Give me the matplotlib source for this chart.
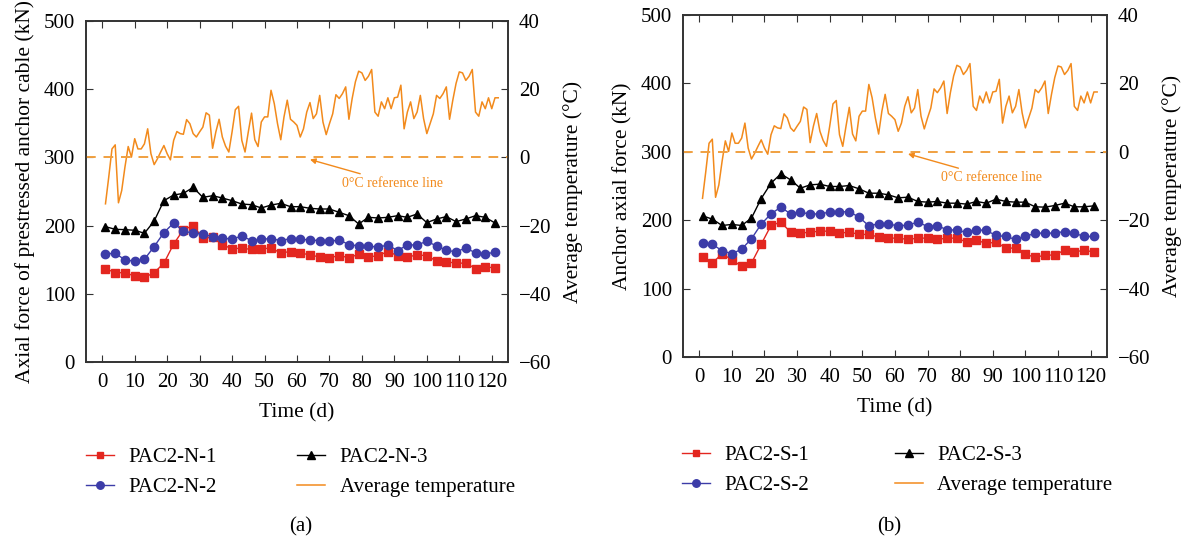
import matplotlib
matplotlib.use("Agg")
import matplotlib.pyplot as plt
import numpy as np

plt.rc('font', family=['Liberation Serif', 'DejaVu Serif'])
plt.rc('font', size=15)

# marker days (every 3 days) and daily temperature days
days = np.arange(1, 122, 3)
temp_days = np.arange(1, 123)

# average temperature (deg C), same record for both sections
temp = [-13.6, -5.8, 2.5, 3.7, -13.3, -9.7, -2.8, 3.2, 0.1, 5.5,
        2.5, 2.5, 4.0, 8.4, 1.1, -2.1, -0.4, 1.6, 3.5, 1.1,
        -0.7, 5.0, 7.6, 7.0, 6.8, 11.1, 9.9, 7.0, 6.0, 7.5,
        8.9, 13.1, 12.4, 2.7, 7.5, 11.2, 6.0, 3.3, 1.6, 7.5,
        14.0, 15.0, 5.0, 1.6, 7.5, 13.0, 5.2, 3.2, 10.4, 11.9,
        11.9, 19.7, 15.8, 9.9, 5.2, 11.9, 16.8, 11.2, 10.4, 9.4,
        6.0, 8.4, 13.3, 16.1, 11.4, 12.8, 18.2, 10.4, 6.7, 9.9,
        12.8, 18.4, 17.3, 18.7, 20.7, 11.2, 17.3, 22.2, 25.3, 24.8,
        22.6, 23.8, 25.8, 13.3, 12.1, 16.3, 14.3, 17.5, 14.3, 17.5,
        17.7, 21.2, 8.4, 13.3, 16.3, 11.4, 13.3, 18.2, 11.4, 7.0,
        9.9, 12.8, 18.2, 17.3, 18.7, 20.7, 11.2, 16.8, 21.7, 25.1,
        24.8, 22.6, 23.8, 25.8, 13.3, 12.1, 16.3, 14.3, 17.5, 14.3,
        17.5, 17.5]

# (a) north section anchor forces (kN)
n1 = [137, 131, 131, 126, 124, 131, 145, 173, 194, 200,
      182, 183, 172, 166, 167, 165, 166, 167, 160, 162,
      160, 157, 154, 153, 156, 153, 158, 154, 156, 162,
      156, 154, 157, 156, 148, 147, 145, 145, 137, 139.5, 138]
n2 = [158.5, 159.5, 149.8, 147.8, 150.7, 169.3, 189.8, 203.9, 191.7, 189.3,
      187.3, 183.9, 182, 180, 184.9, 178, 180, 181, 178, 181,
      180, 179, 178, 177, 179, 172.2, 170.2, 170.2, 168.3, 171.7,
      163.4, 171.7, 171.7, 177, 170.2, 163.9, 161.5, 167.3, 160, 158.5, 161]
n3 = [198.5, 194.6, 194.1, 193.2, 188.8, 206.8, 236.6, 244.9, 247.3, 256.1,
      241.5, 243.9, 240.5, 236.6, 231.7, 230.7, 225.9, 230.2, 232.7, 227.8,
      227.8, 225.4, 224.4, 224.4, 219.5, 214.6, 202.4, 212.2, 211.2, 212.2,
      214.6, 212.2, 217.1, 204.4, 209.8, 213.2, 205.9, 209.8, 214.6, 212.2, 203.9]

# (b) south section anchor forces (kN)
s1 = [146.1, 137.3, 150.9, 142.2, 132.4, 137.3, 165, 192.3, 197.2, 182.6,
      181.1, 182.6, 184, 184, 181.1, 182.6, 179.2, 179.2, 175.3, 173.8,
      173.8, 171.9, 173.8, 173.8, 171.9, 173.8, 173.8, 168, 170.9, 166,
      168, 159.2, 159.2, 150.4, 145.6, 149, 149, 156.3, 153.4, 156.3, 153.4]
s2 = [166, 165, 155.3, 150.9, 157.7, 172.8, 194.3, 209.3, 219.1, 209.3,
      211.8, 208.9, 209.3, 211.8, 212.3, 212.3, 204.5, 191.8, 194.7, 194.3,
      191.8, 192.8, 197.2, 190.8, 191.8, 186, 185.5, 182.1, 186, 185,
      177.7, 176.2, 171.9, 176.2, 181.1, 181.1, 181.1, 183.5, 181.1, 176.2, 176.2]
s3 = [206.4, 201.6, 192.3, 193.8, 192.3, 203, 231.7, 254.1, 267.8, 259,
      246.8, 251.7, 252.7, 249.3, 249.3, 250.7, 245.9, 239.5, 239.5, 237.1,
      232.7, 233.7, 227.4, 226.4, 227.4, 224.9, 224.9, 223.5, 227.4, 224.9,
      230.8, 227.4, 226.4, 226.4, 219.6, 219.1, 221.5, 224.9, 219.6, 219.6, 221]

red = '#e3261f'
blue = '#3c3ca8'
orange = '#f28a1c'
spine = '#333333'

fig = plt.figure(figsize=(11.83, 5.42), dpi=100)


def panel(rect, f1, f2, f3, names, ylabel, leg_anchor, colsp, tag, tag_x):
    ax = fig.add_axes(rect)
    tx = ax.twinx()
    l1, = ax.plot(days, f1, color=red, marker='s', ms=5.2, lw=1, label=names[0], zorder=3)
    l2, = ax.plot(days, f2, color=blue, marker='o', ms=6, lw=1, label=names[1], zorder=3)
    l3, = ax.plot(days, f3, color='black', marker='^', ms=6, lw=1, label=names[2], zorder=3)
    lt, = tx.plot(temp_days, temp, color=orange, lw=1.1, label='Average temperature')
    tx.axhline(0, color='#f0a040', lw=1.4, ls=(0, (5, 4)))
    tx.annotate('0°C reference line', xy=(64, -0.6), xytext=(74, -7.5),
                color=orange, fontsize=10, va='center', ha='left',
                arrowprops=dict(arrowstyle='-|>', color=orange, lw=1,
                                mutation_scale=8, shrinkA=0, shrinkB=0))
    ax.set_xlim(-5, 125)
    ax.set_ylim(0, 500)
    tx.set_ylim(-60, 40)
    ax.set_xticks(range(0, 121, 10))
    ax.set_yticks(range(0, 501, 100))
    tx.set_yticks(range(-60, 41, 20))
    tx.set_yticklabels(['\u221260', '\u221240', '\u221220', '0', '20', '40'])
    ax.tick_params(direction='in', top=True, right=False, length=5, color=spine, pad=8)
    tx.tick_params(direction='in', length=5, color=spine, pad=8)
    for a in (ax, tx):
        for s in a.spines.values():
            s.set_color(spine)
            s.set_linewidth(1.2)
    ax.set_xlabel('Time (d)', fontsize=15.5, labelpad=8)
    ax.set_ylabel(ylabel, fontsize=15.5, labelpad=6)
    tx.set_ylabel('Average temperature (°C)', fontsize=15.5, labelpad=8)
    fig.legend([l1, l2, l3, lt], [l1.get_label(), l2.get_label(), l3.get_label(), lt.get_label()],
               ncol=2, loc='upper left', bbox_to_anchor=leg_anchor, frameon=False,
               fontsize=15, handlelength=1.35, handletextpad=0.7, columnspacing=colsp,
               labelspacing=0.5, markerscale=0.9)
    fig.text(tag_x, 0.028, tag, ha='center', va='center', fontsize=15)


panel([0.0727, 0.3321, 0.3567, 0.629], n1, n2, n3,
      ['PAC2-N-1', 'PAC2-N-2', 'PAC2-N-3'],
      'Axial force of prestressed anchor cable (kN)',
      (0.0566, 0.2085), 3.85, '(a)', 0.254)
panel([0.5773, 0.3413, 0.3584, 0.631], s1, s2, s3,
      ['PAC2-S-1', 'PAC2-S-2', 'PAC2-S-3'],
      'Anchor axial force (kN)',
      (0.5604, 0.212), 4.1, '(b)', 0.752)

fig.savefig('out.png', dpi=100)
